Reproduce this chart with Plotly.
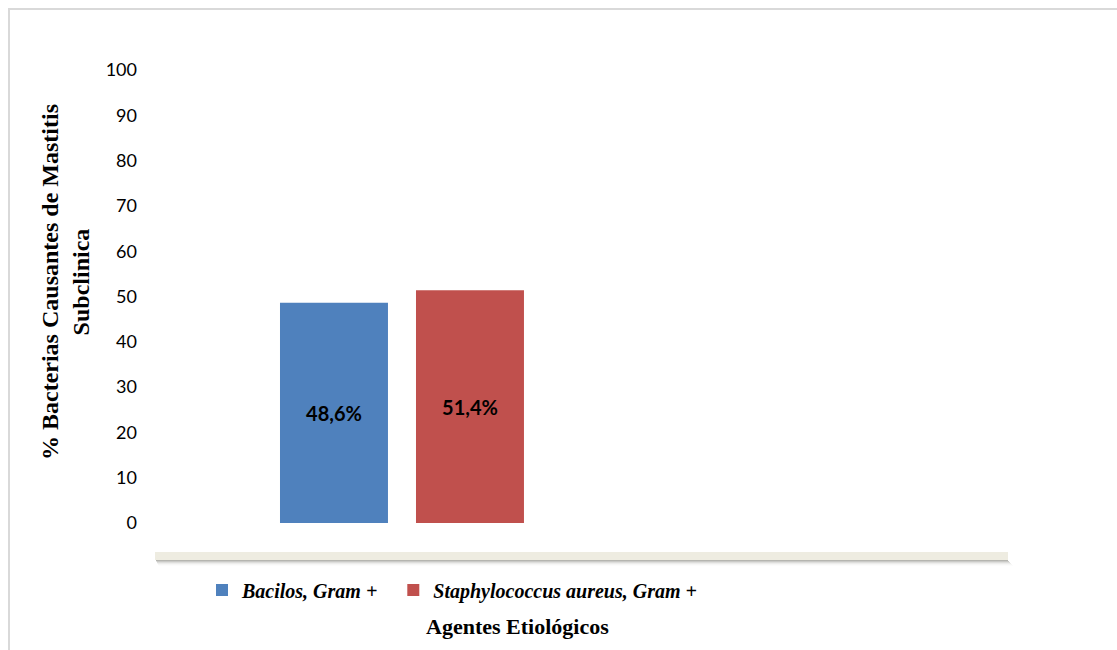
import plotly.graph_objects as go

categories = ["Bacilos, Gram +", "Staphylococcus aureus, Gram +"]
values = [48.6, 51.4]
colors = ["#4F81BD", "#C0504D"]
y_ticks = [0, 10, 20, 30, 40, 50, 60, 70, 80, 90, 100]

W, H = 1117, 650
L, R, T, B = 155, 1117 - 1008, 70, 650 - 523
pw, ph = W - L - R, H - T - B

def px_x(p):
    return (p - L) / pw

def px_y(p):
    return (H - B - p) / ph

fig = go.Figure()
for i, (cat, val, col) in enumerate(zip(categories, values, colors)):
    pad = "&nbsp;" * 2 if i < len(categories) - 1 else ""
    fig.add_trace(go.Bar(
        x=[cat], y=[val], name="<b><i>" + cat + "</i></b>" + pad,
        marker=dict(color=col, line=dict(width=0)),
        width=0.794,
        texttemplate="%{y:.1f}%", textposition="inside",
        insidetextanchor="middle",
        textfont=dict(family="Lato, Open Sans, sans-serif", size=20, color="black", weight="bold"),
        cliponaxis=False,
    ))

shapes = []
# chart border
shapes.append(dict(type="rect", xref="paper", yref="paper",
                   x0=px_x(9), x1=px_x(1200), y0=px_y(700), y1=px_y(9),
                   line=dict(color="#D9D9D9", width=2), fillcolor="rgba(0,0,0,0)", layer="below"))
# shadow under floor
for i, a in enumerate([0.45, 0.32, 0.2, 0.11, 0.05, 0.02]):
    shapes.append(dict(type="rect", xref="paper", yref="paper",
                       x0=px_x(156 + i * 0.5), x1=px_x(1008 + i), y0=px_y(561 + i), y1=px_y(560 + i),
                       line=dict(width=0), fillcolor=f"rgba(90,90,80,{a})", layer="below"))
# floor
shapes.append(dict(type="rect", xref="paper", yref="paper",
                   x0=px_x(155), x1=px_x(1008), y0=px_y(560), y1=px_y(552),
                   line=dict(width=0), fillcolor="#EEECE1", layer="below"))

fig.update_layout(
    width=W, height=H,
    margin=dict(l=L, r=R, t=T, b=B),
    paper_bgcolor="white", plot_bgcolor="white",
    barmode="overlay",
    separators=",.",
    showlegend=True,
    legend=dict(orientation="h", x=px_x(202), xanchor="left", y=px_y(590), yanchor="middle",
                font=dict(family="Liberation Serif, Times New Roman, serif", size=20, color="black"),
                itemwidth=30, tracegroupgap=0, bgcolor="rgba(0,0,0,0)"),
    xaxis=dict(range=[-1.316, 4.956], showticklabels=False, showgrid=False, zeroline=False,
               showline=False, ticks=""),
    yaxis=dict(range=[0, 100], tickvals=y_ticks, showgrid=False, zeroline=False, showline=False,
               ticks="", ticklabelstandoff=17,
               tickfont=dict(family="Lato, Open Sans, sans-serif", size=18, color="black")),
    shapes=shapes,
    annotations=[
        dict(text="<b>Agentes Etiológicos</b>", xref="paper", yref="paper",
             x=px_x(517), y=px_y(626), xanchor="center", yanchor="middle", showarrow=False,
             font=dict(family="Liberation Serif, Times New Roman, serif", size=22, color="black")),
        dict(text="<b>% Bacterias Causantes de Mastitis<br>Subclinica</b>", xref="paper", yref="paper",
             x=px_x(65), y=px_y(282), xanchor="center", yanchor="middle", showarrow=False,
             textangle=-90,
             font=dict(family="Liberation Serif, Times New Roman, serif", size=24, color="black")),
    ],
)

fig.write_html("out.html")
